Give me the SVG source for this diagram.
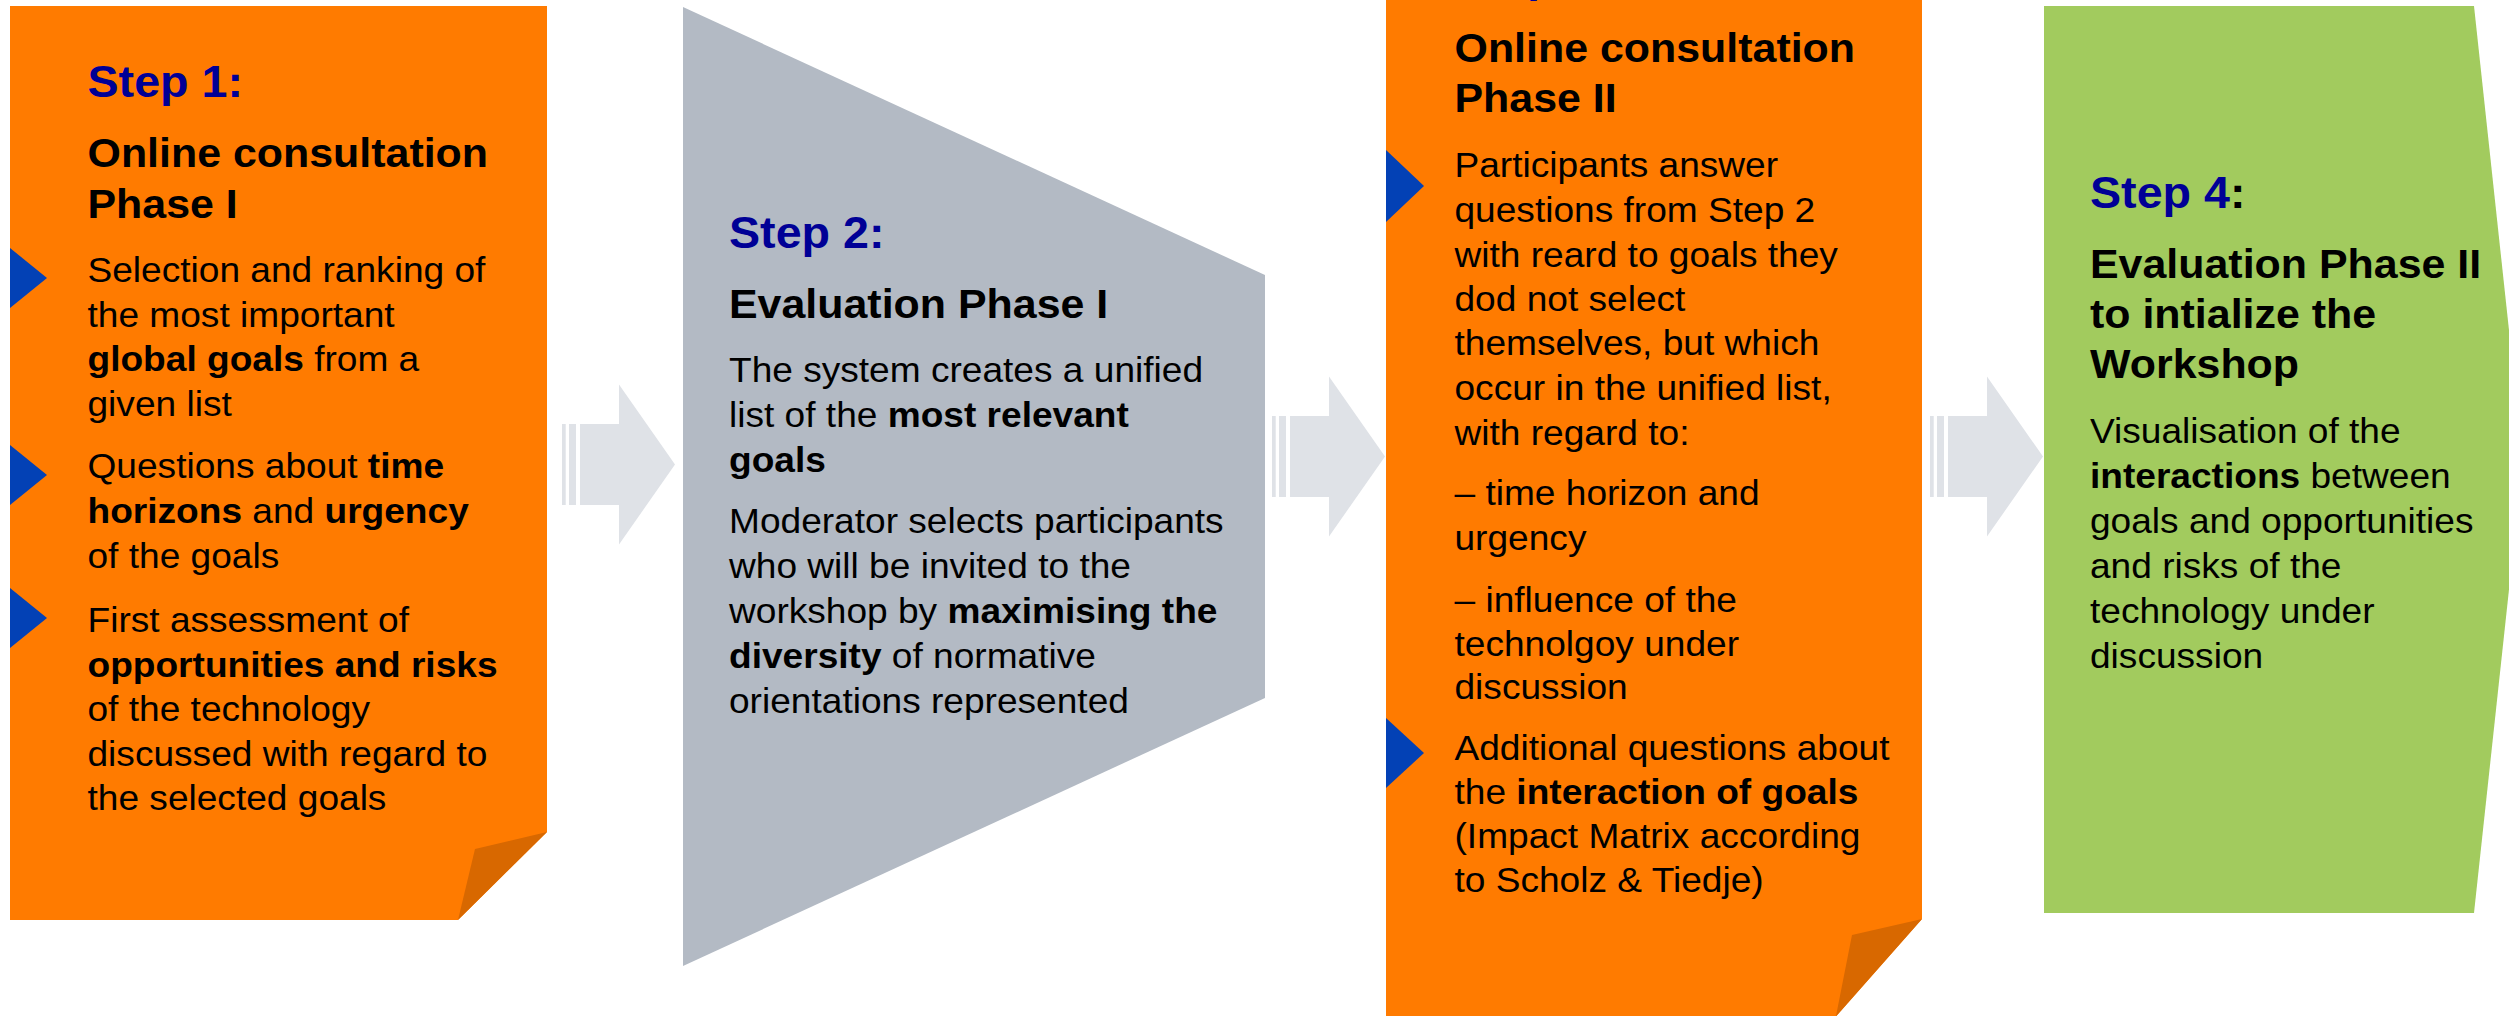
<svg xmlns="http://www.w3.org/2000/svg" width="2509" height="1016" viewBox="0 0 2509 1016">
  <defs>
    <style>
      text { font-family: "Liberation Sans", Arial, Helvetica, sans-serif; fill: #000000; }
      .step { font-size: 44px; font-weight: bold; fill: #000096; }
      .head { font-size: 40.5px; font-weight: bold; }
      .body { font-size: 35px; }
      .b { font-weight: bold; }
      .orange { fill: #FF7B00; }
      .fold { fill: #D86800; }
      .gray { fill: #B3BAC4; }
      .green { fill: #A2CB5E; }
      .bullet { fill: #0341B5; }
      .arrow { fill: #DFE2E7; }
    </style>
    <!-- block arrow with two leading stripes, origin at left stripe / vertical centre -->
    <g id="blockArrow">
      <rect class="arrow" x="0" y="-40.5" width="3.7" height="81"/>
      <rect class="arrow" x="7" y="-40.5" width="7" height="81"/>
      <polygon class="arrow" points="18,-40.5 57,-40.5 57,-80 113,0 57,80 57,40.5 18,40.5"/>
    </g>
  </defs>

  <rect x="0" y="0" width="2509" height="1016" fill="#FFFFFF"/>

  <!-- Step 1 -->
  <g id="step1">
    <polygon class="orange" points="10,6 547,6 547,832 458,920 10,920"/>
    <polygon class="fold" points="547,832 475,849 458,920"/>
    <polygon class="bullet" points="10,248 47,278 10,308"/>
    <polygon class="bullet" points="10,445 47,475 10,505"/>
    <polygon class="bullet" points="10,588 47,618 10,648"/>
    <g transform="translate(87.5 0) scale(1.06 1)">
      <text class="step" x="0" y="97">Step 1:</text>
      <text class="head" x="0" y="167">Online consultation</text>
      <text class="head" x="0" y="218">Phase I</text>
      <text class="body" x="0" y="282">Selection and ranking of</text>
      <text class="body" x="0" y="327">the most important</text>
      <text class="body" x="0" y="371"><tspan class="b">global goals</tspan> from a</text>
      <text class="body" x="0" y="416">given list</text>
      <text class="body" x="0" y="478">Questions about <tspan class="b">time</tspan></text>
      <text class="body" x="0" y="523"><tspan class="b">horizons</tspan> and <tspan class="b">urgency</tspan></text>
      <text class="body" x="0" y="568">of the goals</text>
      <text class="body" x="0" y="632">First assessment of</text>
      <text class="body" x="0" y="677"><tspan class="b">opportunities and risks</tspan></text>
      <text class="body" x="0" y="721">of the technology</text>
      <text class="body" x="0" y="766">discussed with regard to</text>
      <text class="body" x="0" y="810">the selected goals</text>
    </g>
  </g>

  <!-- Step 2 -->
  <g id="step2">
    <polygon class="gray" points="683,7 1265,275 1265,698 683,966"/>
    <g transform="translate(729 0) scale(1.06 1)">
      <text class="step" x="0" y="248">Step 2:</text>
      <text class="head" x="0" y="318">Evaluation Phase I</text>
      <text class="body" x="0" y="382">The system creates a unified</text>
      <text class="body" x="0" y="427">list of the <tspan class="b">most relevant</tspan></text>
      <text class="body" x="0" y="472"><tspan class="b">goals</tspan></text>
      <text class="body" x="0" y="533">Moderator selects participants</text>
      <text class="body" x="0" y="578">who will be invited to the</text>
      <text class="body" x="0" y="623">workshop by <tspan class="b">maximising the</tspan></text>
      <text class="body" x="0" y="668"><tspan class="b">diversity</tspan> of normative</text>
      <text class="body" x="0" y="713">orientations represented</text>
    </g>
  </g>

  <!-- Step 3 -->
  <g id="step3">
    <polygon class="orange" points="1386,-10 1922,-10 1922,919 1824,1030 1386,1030"/>
    <polygon class="fold" points="1922,919 1852,935 1836,1016 1824,1030"/>
    <polygon class="bullet" points="1386,150 1424,186 1386,222"/>
    <polygon class="bullet" points="1386,718 1424,753 1386,788"/>
    <g transform="translate(1454.5 0) scale(1.06 1)">
      <text class="step" x="0" y="-8">Step 3:</text>
      <text class="head" x="0" y="62">Online consultation</text>
      <text class="head" x="0" y="112">Phase II</text>
      <text class="body" x="0" y="177">Participants answer</text>
      <text class="body" x="0" y="222">questions from Step 2</text>
      <text class="body" x="0" y="267">with reard to goals they</text>
      <text class="body" x="0" y="311">dod not select</text>
      <text class="body" x="0" y="355">themselves, but which</text>
      <text class="body" x="0" y="400">occur in the unified list,</text>
      <text class="body" x="0" y="445">with regard to:</text>
      <text class="body" x="0" y="505">– time horizon and</text>
      <text class="body" x="0" y="550">urgency</text>
      <text class="body" x="0" y="612">– influence of the</text>
      <text class="body" x="0" y="656">technolgoy under</text>
      <text class="body" x="0" y="699">discussion</text>
      <text class="body" x="0" y="760">Additional questions about</text>
      <text class="body" x="0" y="804">the <tspan class="b">interaction of goals</tspan></text>
      <text class="body" x="0" y="848">(Impact Matrix according</text>
      <text class="body" x="0" y="892">to Scholz &amp; Tiedje)</text>
    </g>
  </g>

  <!-- Step 4 -->
  <g id="step4">
    <polygon class="green" points="2044,6 2474,6 2523,460 2474,913 2044,913"/>
    <g transform="translate(2090 0) scale(1.06 1)">
      <text class="step" x="0" y="208">Step 4<tspan fill="#000000">:</tspan></text>
      <text class="head" x="0" y="278">Evaluation Phase II</text>
      <text class="head" x="0" y="328">to intialize the</text>
      <text class="head" x="0" y="378">Workshop</text>
      <text class="body" x="0" y="443">Visualisation of the</text>
      <text class="body" x="0" y="488"><tspan class="b">interactions</tspan> between</text>
      <text class="body" x="0" y="533">goals and opportunities</text>
      <text class="body" x="0" y="578">and risks of the</text>
      <text class="body" x="0" y="623">technology under</text>
      <text class="body" x="0" y="668">discussion</text>
    </g>
  </g>

  <!-- Flow arrows between the steps -->
  <g id="connectors">
    <use href="#blockArrow" transform="translate(562 464.5)"/>
    <use href="#blockArrow" transform="translate(1272 456.5)"/>
    <use href="#blockArrow" transform="translate(1930 456.5)"/>
  </g>
</svg>
